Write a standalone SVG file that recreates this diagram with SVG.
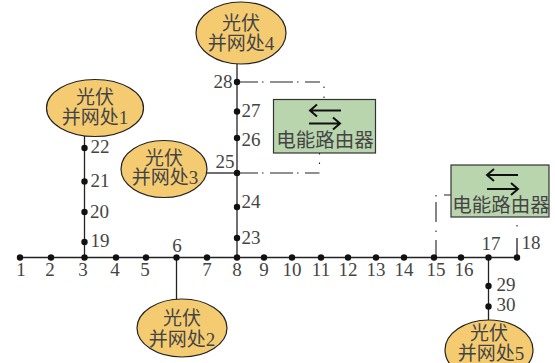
<svg xmlns="http://www.w3.org/2000/svg" width="555" height="363" viewBox="0 0 555 363">
<defs>
<style>
text{font-family:"Liberation Serif","Noto Sans CJK SC",serif;fill:#444}
.n{font-size:19px;text-anchor:middle}
.e{font-size:19px;text-anchor:middle}
.r{font-size:19.500px;text-anchor:middle}
ellipse{fill:#f5cb72;stroke:#222;stroke-width:1.2}
.box{fill:#b9d5ae;stroke:#333;stroke-width:1.2}
.w{stroke:#222;stroke-width:1.3;fill:none}
.d{stroke:#222;stroke-width:1.1;fill:none;stroke-dasharray:23 4 1.500 6.500}
.o{stroke:#222;stroke-width:1.1;fill:none}
.a{stroke:#111;stroke-width:2;fill:none}
circle{fill:#111}
</style>
</defs>
<g id="connectors">
<path class="w" d="M20 257.500H517"/>
<path class="w" d="M84.500 136V257.500"/>
<path class="w" d="M237 64V257.500"/>
<path class="w" d="M206 173H237"/>
<path class="w" d="M176.500 257.500V300"/>
<path class="w" d="M488.500 257.500V320"/>
<path class="d" stroke-dashoffset="2" d="M237 82H320"/>
<path class="o" d="M324 86.500V88M324 96.500V98"/>
<path class="d" stroke-dashoffset="2" d="M237 173H319.500"/>
<path class="o" d="M319.500 153V154.500M319.500 162.500V164"/>
<path class="o" d="M444 195H451M436 195V196.500M436 202V222M436 230.500V232M436 240V257.500"/>
<path class="w" d="M517 238V257.500"/>
<path class="o" d="M517 225V226.500"/>
</g>
<g id="buses">
<circle cx="20" cy="257.500" r="3.200"/><circle cx="51" cy="257.500" r="3.200"/><circle cx="84.500" cy="257.500" r="3.200"/><circle cx="116" cy="257.500" r="3.200"/><circle cx="146" cy="257.500" r="3.200"/><circle cx="176.500" cy="257.500" r="3.200"/><circle cx="207" cy="257.500" r="3.200"/><circle cx="237" cy="257.500" r="3.200"/><circle cx="264" cy="257.500" r="3.200"/><circle cx="292" cy="257.500" r="3.200"/><circle cx="321" cy="257.500" r="3.200"/><circle cx="348" cy="257.500" r="3.200"/><circle cx="376" cy="257.500" r="3.200"/><circle cx="404" cy="257.500" r="3.200"/><circle cx="434" cy="257.500" r="3.200"/><circle cx="461" cy="257.500" r="3.200"/><circle cx="488.500" cy="257.500" r="3.200"/><circle cx="517" cy="257.500" r="3.200"/>
<circle cx="84.500" cy="242" r="3.200"/><circle cx="84.500" cy="212" r="3.200"/><circle cx="84.500" cy="181.500" r="3.200"/><circle cx="84.500" cy="148" r="3.200"/>
<circle cx="237" cy="238" r="3.200"/><circle cx="237" cy="207" r="3.200"/><circle cx="237" cy="173" r="3.200"/><circle cx="237" cy="138" r="3.200"/><circle cx="237" cy="111.500" r="3.200"/><circle cx="237" cy="82" r="3.200"/>
<circle cx="488.500" cy="286" r="3.200"/><circle cx="488.500" cy="306.500" r="3.200"/>
</g>
<g id="labels">
<text class="n" x="21" y="276">1</text><text class="n" x="50" y="276">2</text><text class="n" x="83" y="276">3</text><text class="n" x="115" y="276">4</text><text class="n" x="145" y="276">5</text><text class="n" x="177" y="252">6</text><text class="n" x="207" y="276">7</text><text class="n" x="237" y="276">8</text><text class="n" x="264" y="276">9</text><text class="n" x="292" y="276">10</text><text class="n" x="321" y="276">11</text><text class="n" x="348" y="276">12</text><text class="n" x="376" y="276">13</text><text class="n" x="404" y="276">14</text><text class="n" x="436" y="276">15</text><text class="n" x="464" y="276">16</text><text class="n" x="491" y="250">17</text><text class="n" x="531" y="249">18</text>
<text class="n" x="100" y="247">19</text><text class="n" x="99.500" y="218">20</text><text class="n" x="100" y="187">21</text><text class="n" x="100" y="153">22</text>
<text class="n" x="251" y="244">23</text><text class="n" x="251" y="208">24</text><text class="n" x="225" y="168">25</text><text class="n" x="251" y="146">26</text><text class="n" x="251" y="117">27</text><text class="n" x="223" y="88">28</text>
<text class="n" x="506" y="291">29</text><text class="n" x="506" y="311">30</text>
</g>
<g id="pv1"><ellipse cx="95" cy="108" rx="48.500" ry="28.500"/><text class="e" x="95" y="104">光伏</text><text class="e" x="95" y="124">并网处1</text></g>
<g id="pv2"><ellipse cx="182" cy="328" rx="45" ry="29"/><text class="e" x="182" y="325">光伏</text><text class="e" x="182" y="346">并网处2</text></g>
<g id="pv3"><ellipse cx="164" cy="169" rx="43" ry="28.500"/><text class="e" x="164" y="165">光伏</text><text class="e" x="165" y="184">并网处3</text></g>
<g id="pv4"><ellipse cx="241" cy="33" rx="45" ry="31"/><text class="e" x="241" y="30">光伏</text><text class="e" x="241" y="50">并网处4</text></g>
<g id="pv5"><ellipse cx="489" cy="350" rx="44" ry="30"/><text class="e" x="489" y="340">光伏</text><text class="e" x="491" y="360">并网处5</text></g>
<g id="router1"><rect class="box" x="273.500" y="99.500" width="102" height="53.500"/>
<path class="a" d="M341 110.500H310M317 104.500L310 110.500L317 116.500M309 123.500H340M333 117.500L340 123.500L333 129.500"/>
<text class="r" x="325" y="147">电能路由器</text></g>
<g id="router2"><rect class="box" x="451" y="165" width="98" height="52"/>
<path class="a" d="M518 175H487M494 169L487 175L494 181M487 189H518M511 183L518 189L511 195"/>
<text class="r" x="501" y="212">电能路由器</text></g>
</svg>
